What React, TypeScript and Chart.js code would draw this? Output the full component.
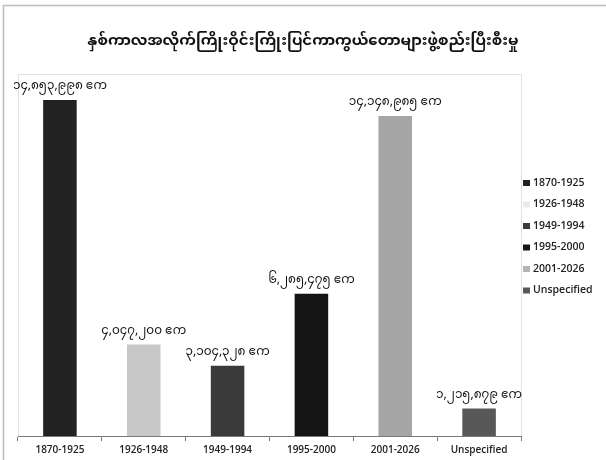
import React, { useEffect, useRef } from "react";
import { Chart, registerables } from "chart.js";

Chart.register(...registerables);

const titleText = "နှစ်ကာလအလိုက်ကြိုးဝိုင်းကြိုးပြင်ကာကွယ်တောများဖွဲ့စည်းပြီးစီးမှု";
const categories = ["1870-1925", "1926-1948", "1949-1994", "1995-2000", "2001-2026", "Unspecified"];
const areaValues = [14853998, 4047200, 3104328, 6285475, 14148985, 1215879];
const barColors = ["#222222", "#c8c8c8", "#3a3a3a", "#141414", "#a6a6a6", "#585858"];
const legendColors = ["#222222", "#ebebeb", "#3a3a3a", "#141414", "#b4b4b4", "#585858"];
const unitText = "ဧက";
const yMax = 16000000;

const myDigits = ["၀", "၁", "၂", "၃", "၄", "၅", "၆", "၇", "၈", "၉"];
function toMyanmar(n: number): string {
  const s = n.toLocaleString("en-US");
  return s.replace(/[0-9]/g, (d) => myDigits[Number(d)]);
}

const MY_FONT = "'Noto Sans Myanmar', Padauk, 'Myanmar Text', 'Noto Sans', sans-serif";
const LAT_FONT = "'Open Sans', 'Liberation Sans', sans-serif";

const decorPlugin = {
  id: "decor",
  beforeDraw(chart: any) {
    const { ctx, chartArea } = chart;
    ctx.save();
    ctx.fillStyle = "#ffffff";
    ctx.fillRect(0, 0, chart.width, chart.height);
    ctx.strokeStyle = "#bdbdbd";
    ctx.lineWidth = 1.5;
    ctx.beginPath();
    ctx.moveTo(3.5, chart.height);
    ctx.lineTo(3.5, 5.5);
    ctx.lineTo(chart.width, 5.5);
    ctx.stroke();
    ctx.strokeStyle = "#e2e2e2";
    ctx.lineWidth = 1;
    ctx.strokeRect(chartArea.left + 0.5, chartArea.top + 0.5, chartArea.right - chartArea.left, chartArea.bottom - chartArea.top);
    ctx.restore();
  },
  afterDraw(chart: any) {
    const { ctx } = chart;
    ctx.save();
    ctx.fillStyle = "#111111";
    ctx.font = `bold 15px ${MY_FONT}`;
    ctx.textAlign = "center";
    ctx.textBaseline = "middle";
    ctx.fillText(titleText, 303, 43);
    const meta = chart.getDatasetMeta(0);
    ctx.font = `12px ${MY_FONT}`;
    ctx.textBaseline = "bottom";
    meta.data.forEach((bar: any, i: number) => {
      ctx.fillText(`${toMyanmar(areaValues[i])} ${unitText}`, bar.x, bar.y - 6);
    });
    ctx.font = `600 10.5px ${LAT_FONT}`;
    ctx.textAlign = "left";
    ctx.textBaseline = "middle";
    categories.forEach((c, i) => {
      const y = 183 + i * 21.5;
      ctx.fillStyle = legendColors[i];
      ctx.fillRect(523, y - 3, 7, 6);
      ctx.fillStyle = "#222222";
      ctx.fillText(c, 533, y);
    });
    ctx.restore();
  },
};

export default function App() {
  const ref = useRef<HTMLCanvasElement | null>(null);
  useEffect(() => {
    document.body.style.margin = "0";
    const chart = new Chart(ref.current as HTMLCanvasElement, {
      type: "bar",
      data: {
        labels: categories,
        datasets: [
          {
            data: areaValues,
            backgroundColor: barColors,
            barPercentage: 0.4,
            categoryPercentage: 1,
          },
        ],
      },
      options: {
        responsive: false,
        animation: false,
        layout: { padding: { left: 18, right: 85, top: 74, bottom: 1 } },
        plugins: { legend: { display: false }, title: { display: false }, tooltip: { enabled: false } },
        scales: {
          y: { display: false, min: 0, max: yMax },
          x: {
            grid: { display: true, drawOnChartArea: false, offset: true, tickLength: 5, color: "#7a7a7a" },
            border: { display: true, color: "#7a7a7a" },
            ticks: { color: "#222222", font: { family: LAT_FONT, size: 10, weight: "600" }, padding: 3 },
          },
        },
      },
      plugins: [decorPlugin],
    });
    return () => chart.destroy();
  }, []);
  return (
    <div style={{ width: 606, height: 460 }}>
      <canvas ref={ref} width={606} height={460} style={{ display: "block" }} />
    </div>
  );
}
